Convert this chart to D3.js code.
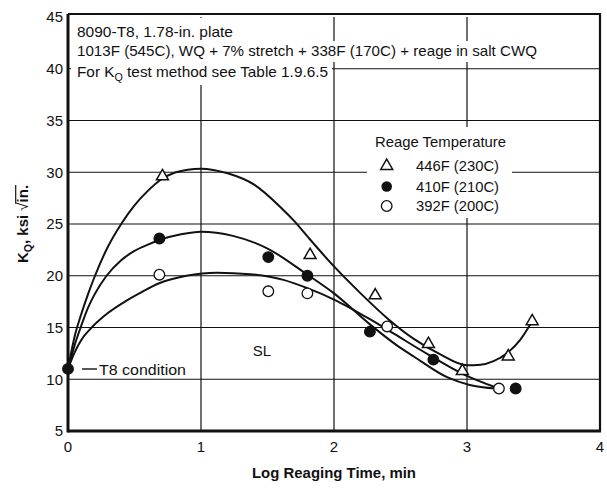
<!DOCTYPE html>
<html><head><meta charset="utf-8">
<script src="https://cdn.jsdelivr.net/npm/d3@7"></script>
<style>
body{margin:0;background:#fff}
svg{display:block}
text{font-family:"Liberation Sans",Arial,Helvetica,sans-serif;fill:#111}
</style></head>
<body><svg id="c" width="607" height="488"></svg>
<script>
// ---- data ----
const xTicks = [0, 1, 2, 3, 4];
const yTicks = [5, 10, 15, 20, 25, 30, 35, 40, 45];
const xGrid = [1, 2, 3];
const yGrid = [10, 15, 20, 25, 30, 35, 40];

const legendLabels = ["446F (230C)", "410F (210C)", "392F (200C)"];

// T8 condition start point
const t8X = [0];
const t8Y = [11.0];

// measured points
const tri446X = [0.71, 1.82, 2.31, 2.71, 2.965, 3.31, 3.49];
const tri446Y = [29.6, 22.0, 18.1, 13.4, 10.8, 12.2, 15.6];
const dot410X = [0.687, 1.506, 1.8, 2.27, 2.747, 3.366];
const dot410Y = [23.6, 21.8, 20.0, 14.6, 11.9, 9.1];
const circ392X = [0.687, 1.506, 1.8, 2.40, 3.24];
const circ392Y = [20.1, 18.5, 18.3, 15.1, 9.1];

// fitted curves
const curve446X = [0, 0.053, 0.1, 0.15, 0.203, 0.3, 0.4, 0.5, 0.6, 0.7, 0.8, 0.9, 1.0, 1.2, 1.4, 1.6, 1.7, 1.8, 2.0, 2.2, 2.4, 2.6, 2.8, 3.0, 3.1, 3.2, 3.3, 3.4, 3.49];
const curve446Y = [11.0, 14.3, 16.3, 18.2, 20.0, 22.8, 25.0, 26.8, 28.2, 29.3, 29.95, 30.25, 30.35, 29.9, 28.8, 26.6, 25.3, 23.8, 20.9, 18.3, 15.9, 13.9, 12.4, 11.35, 11.4, 11.75, 12.5, 13.8, 15.6];
const curve410X = [0, 0.05, 0.095, 0.15, 0.2, 0.29, 0.4, 0.5, 0.6, 0.7, 0.85, 1.0, 1.24, 1.49, 1.8, 2.0, 2.27, 2.47, 2.6, 2.85, 3.02, 3.22];
const curve410Y = [11.0, 13.3, 15.0, 16.9, 18.2, 20.0, 21.5, 22.4, 23.0, 23.5, 24.0, 24.25, 23.85, 22.7, 20.1, 18.3, 15.3, 13.3, 12.2, 10.2, 9.45, 9.1];
const curve392X = [0, 0.05, 0.1, 0.178, 0.3, 0.44, 0.55, 0.69, 0.89, 1.12, 1.37, 1.62, 1.8, 2.0, 2.27, 2.45, 2.72, 2.97, 3.22];
const curve392Y = [11.0, 12.6, 13.8, 15.0, 16.4, 17.6, 18.4, 19.3, 20.0, 20.3, 20.15, 19.6, 18.8, 17.7, 15.8, 14.4, 12.3, 10.5, 9.2];

// ---- drawing ----
const svg = d3.select("#c");
const x = d3.scaleLinear().domain([0, 4]).range([68, 600]);
const y = d3.scaleLinear().domain([5, 45]).range([431, 17]);
const ink = "#111";
const FS = 15;

// gridlines
svg.append("g").selectAll("line").data(yGrid).join("line")
  .attr("x1", x(0)).attr("x2", x(4)).attr("y1", d => y(d)).attr("y2", d => y(d))
  .attr("stroke", ink).attr("stroke-width", 1.2);
svg.append("g").selectAll("line").data(xGrid).join("line")
  .attr("y1", y(45)).attr("y2", y(5)).attr("x1", d => x(d)).attr("x2", d => x(d))
  .attr("stroke", ink).attr("stroke-width", 1.2);

// header text with white masks
const hdr = [
  {t: "8090-T8, 1.78-in. plate", base: 37, len: 156, m0: 18, m1: 41},
  {t: "1013F (545C), WQ + 7% stretch + 338F (170C) + reage in salt CWQ", base: 56, len: 460, m0: 41, m1: 62},
  {t: null, base: 77, len: 251, m0: 62, m1: 85}
];
hdr.forEach(h => {
  svg.append("rect").attr("x", 71).attr("y", h.m0).attr("width", h.len + 10).attr("height", h.m1 - h.m0).attr("fill", "#fff");
});
hdr.forEach(h => {
  const t = svg.append("text").attr("x", 77).attr("y", h.base).attr("font-size", FS)
    .attr("textLength", h.len).attr("lengthAdjust", "spacingAndGlyphs");
  if (h.t) t.text(h.t);
  else {
    t.append("tspan").text("For K");
    t.append("tspan").attr("font-size", 10.5).attr("dy", 4).text("Q");
    t.append("tspan").attr("dy", -4).text(" test method see Table 1.9.6.5");
  }
});

// legend (white box)
svg.append("rect").attr("x", 367).attr("y", 127).attr("width", 145).attr("height", 91).attr("fill", "#fff");
svg.append("text").attr("x", 375).attr("y", 147).attr("font-size", FS)
  .attr("textLength", 131).attr("lengthAdjust", "spacingAndGlyphs").text("Reage Temperature");
const legRows = [166, 186.5, 206];
legendLabels.forEach((l, i) => {
  svg.append("text").attr("x", 416).attr("y", legRows[i] + 5.3).attr("font-size", FS)
    .attr("textLength", 83).attr("lengthAdjust", "spacingAndGlyphs").text(l);
});

// frame
svg.append("line").attr("x1", x(0)).attr("x2", x(0)).attr("y1", y(45) - 3).attr("y2", y(5) + 1.5).attr("stroke", ink).attr("stroke-width", 3);
svg.append("line").attr("x1", x(0)).attr("x2", x(4) + 1).attr("y1", y(5)).attr("y2", y(5)).attr("stroke", ink).attr("stroke-width", 3);
svg.append("line").attr("x1", x(4)).attr("x2", x(4)).attr("y1", y(45) - 3).attr("y2", y(5)).attr("stroke", ink).attr("stroke-width", 2.2);
svg.append("line").attr("x1", x(0)).attr("x2", x(4) + 1).attr("y1", y(45) - 3).attr("y2", y(45) - 3).attr("stroke", ink).attr("stroke-width", 2);

// tick labels
svg.append("g").selectAll("text").data(yTicks).join("text")
  .attr("x", 63).attr("y", d => y(d)).attr("dy", "0.36em").attr("text-anchor", "end")
  .attr("font-size", FS).text(d => d);
svg.append("g").selectAll("text").data(xTicks).join("text")
  .attr("x", d => x(d)).attr("y", 452).attr("text-anchor", "middle")
  .attr("font-size", FS).text(d => d);

// axis titles
svg.append("text").attr("x", 334).attr("y", 478).attr("text-anchor", "middle")
  .attr("font-size", FS).attr("font-weight", "bold")
  .attr("textLength", 164).attr("lengthAdjust", "spacingAndGlyphs").text("Log Reaging Time, min");

const yl = svg.append("g").attr("transform", "translate(28,263) rotate(-90)");
const ylt = yl.append("text").attr("x", 0).attr("y", 0).attr("font-size", FS).attr("font-weight", "bold");
ylt.append("tspan").text("K");
ylt.append("tspan").attr("font-size", 10.5).attr("dy", 4).text("Q");
ylt.append("tspan").attr("dy", -4).text(", ksi ");
ylt.append("tspan").attr("font-weight", "normal").text("\u221A");
ylt.append("tspan").text("in.");
const full = "KQ, ksi \u221Ain.";
const node = ylt.node();
const iRad = full.indexOf("\u221A");
const sx = node.getStartPositionOfChar(iRad).x + node.getSubStringLength(iRad, 1) * 0.85;
const ex = node.getEndPositionOfChar(full.length - 1).x;
yl.append("line").attr("x1", sx).attr("x2", ex).attr("y1", -12.3).attr("y2", -12.3).attr("stroke", ink).attr("stroke-width", 1.2);

// curves
const line = d3.line().x(d => x(d[0])).y(d => y(d[1])).curve(d3.curveMonotoneX);
[[curve446X, curve446Y], [curve410X, curve410Y], [curve392X, curve392Y]].forEach(([cx, cy]) => {
  svg.append("path").attr("d", line(cx.map((v, i) => [v, cy[i]])))
    .attr("fill", "none").attr("stroke", ink).attr("stroke-width", 2);
});

// labels inside plot
svg.append("text").attr("x", 262).attr("y", 355.5).attr("text-anchor", "middle").attr("font-size", FS).text("SL");
svg.append("line").attr("x1", 82).attr("x2", 97).attr("y1", 369).attr("y2", 369).attr("stroke", ink).attr("stroke-width", 1.4);
svg.append("text").attr("x", 99).attr("y", 374.5).attr("font-size", FS)
  .attr("textLength", 87).attr("lengthAdjust", "spacingAndGlyphs").text("T8 condition");

// markers
const tri = d3.symbol().type(d3.symbolTriangle).size(62);
function triangles(xs, ys) {
  svg.append("g").selectAll("path").data(xs).join("path")
    .attr("d", tri).attr("transform", (d, i) => `translate(${x(d)},${y(ys[i])})`)
    .attr("fill", "#fff").attr("stroke", ink).attr("stroke-width", 1.5);
}
function circles(xs, ys, filled) {
  svg.append("g").selectAll("circle").data(xs).join("circle")
    .attr("cx", d => x(d)).attr("cy", (d, i) => y(ys[i])).attr("r", 5.3)
    .attr("fill", filled ? ink : "#fff").attr("stroke", ink).attr("stroke-width", 1.3);
}
triangles(tri446X, tri446Y);
circles(dot410X, dot410Y, true);
circles(circ392X, circ392Y, false);
circles(t8X, t8Y, true);

// legend markers
const lx = 386.7;
svg.append("path").attr("d", tri).attr("transform", `translate(${lx},${legRows[0]})`)
  .attr("fill", "#fff").attr("stroke", ink).attr("stroke-width", 1.5);
svg.append("circle").attr("cx", lx).attr("cy", legRows[1]).attr("r", 5.3).attr("fill", ink);
svg.append("circle").attr("cx", lx).attr("cy", legRows[2]).attr("r", 5.3).attr("fill", "#fff").attr("stroke", ink).attr("stroke-width", 1.3);
</script></body></html>
